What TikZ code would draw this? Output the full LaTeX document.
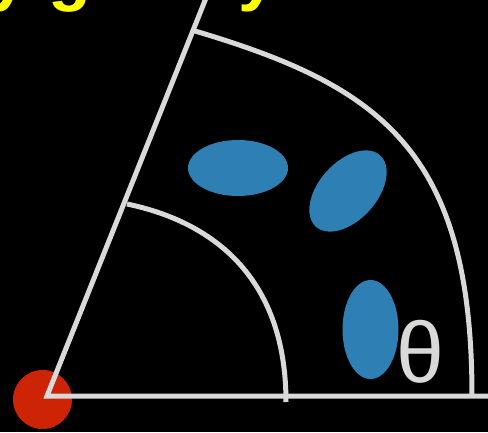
\documentclass[tikz,border=0pt]{standalone}
\usepackage{fontspec}
\setmainfont{Liberation Sans}
\usetikzlibrary{shapes.geometric}
\definecolor{bgc}{RGB}{0,0,0}
\definecolor{linec}{RGB}{217,217,217}
\definecolor{blobc}{RGB}{46,128,180}
\definecolor{dotc}{RGB}{204,36,4}
\definecolor{titlec}{RGB}{255,255,0}
\tikzset{
  wire/.style={draw=linec, line width=5pt},
  blob/.style={ellipse, fill=blobc, draw=none, inner sep=0pt},
}
\begin{document}
\begin{tikzpicture}[x=1pt,y=-1pt]
\fill[bgc] (0,0) rectangle (488,432);
\useasboundingbox (0,0) rectangle (488,432);
\clip (0,0) rectangle (488,432);
% title fragment
\node[anchor=base west, inner sep=0pt, text=titlec, font=\fontsize{70}{84}\selectfont\bfseries] (title) at (-53,-3) {by gravity of a};
% origin dot
\node[circle, fill=dotc, minimum size=59pt, inner sep=0pt] (dot) at (42.5,399.5) {};
% origin and rays
\coordinate (O) at (47,396);
\coordinate (Ray) at (210,-12);
\coordinate (Xend) at (495,396);
\draw[wire] (Ray) -- (O) -- (Xend);
% arcs
\coordinate (ia) at (127,204);
\coordinate (ib) at (286,402);
\draw[wire] (ia) .. controls (218,223) and (286,282) .. (ib);
\coordinate (oa) at (195,31);
\coordinate (ob) at (472,396);
\draw[wire] (oa) .. controls (380,86) and (472,150) .. (ob);
% blobs
\node[blob, minimum width=100pt, minimum height=56pt] (b1) at (238,168) {};
\node[blob, minimum width=96pt, minimum height=58pt, rotate=48] (b2) at (348,191) {};
\node[blob, minimum width=56pt, minimum height=99pt] (b3) at (370.5,329.5) {};
% theta
\node[text=linec, inner sep=0pt, font=\fontsize{86}{100}\selectfont] (theta) at (420,352) {θ};
\end{tikzpicture}
\end{document}
